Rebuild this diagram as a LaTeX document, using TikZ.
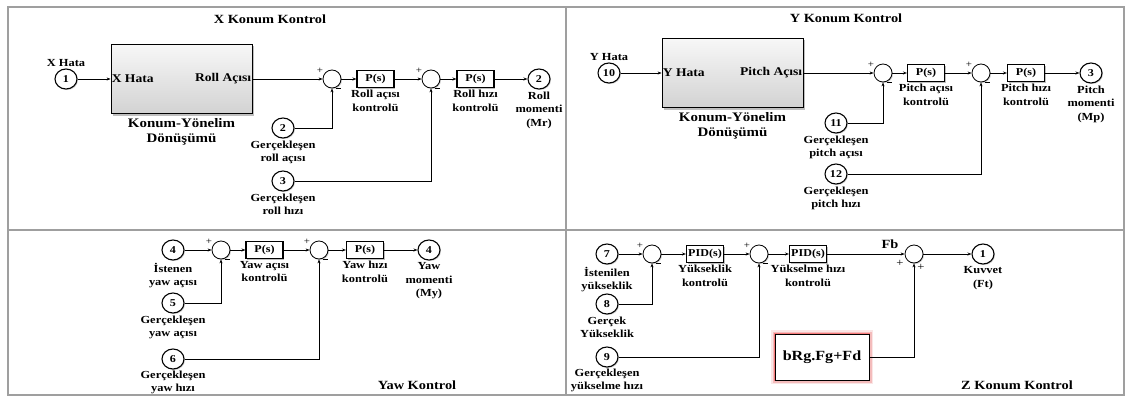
\documentclass[tikz,border=0pt]{standalone}
\usepackage{fontspec}
\setmainfont{Liberation Serif}[FakeStretch=1.15]
\usetikzlibrary{positioning,shapes.geometric,shadows,arrows.meta}

\begin{document}
\begin{tikzpicture}[
    x=1pt, y=-1pt,
    every node/.style={font=\bfseries},
    lbl/.style={align=center, inner sep=1pt, font=\fontsize{10.8}{13.5}\selectfont\bfseries},
    port/.style={draw, ellipse, line width=1.1pt, fill=white, minimum width=22pt, minimum height=20pt, inner sep=0pt,
      drop shadow={shadow xshift=1pt, shadow yshift=-1pt, opacity=0.4}, font=\fontsize{10.5}{11}\selectfont\bfseries},
    sum/.style={draw, circle, line width=0.8pt, fill=white, minimum size=18pt, inner sep=0pt,
      drop shadow={shadow xshift=1pt, shadow yshift=-1pt, opacity=0.4}},
    gain/.style={draw, line width=1.1pt, fill=white, minimum width=37pt, minimum height=17pt, inner sep=1pt,
      drop shadow={shadow xshift=1.2pt, shadow yshift=-1.2pt, opacity=0.5}, font=\fontsize{10.5}{11}\selectfont\bfseries},
    subsys/.style={draw, line width=0.8pt, top color=gray!6, bottom color=gray!35, minimum width=141pt, minimum height=69pt,
      drop shadow={shadow xshift=2pt, shadow yshift=-2pt, opacity=0.5}},
    port name/.style={inner sep=1pt, font=\fontsize{11.8}{13}\selectfont\bfseries},
    caption/.style={align=center, inner sep=1pt, font=\fontsize{13}{15}\selectfont\bfseries},
    glowbox/.style={draw, line width=0.8pt, fill=white, minimum width=94pt, minimum height=46pt,
      preaction={draw=red!80!black, line width=8pt, opacity=0.1},
      preaction={draw=red!85!black, line width=5pt, opacity=0.18},
      preaction={draw=red, line width=2.5pt, opacity=0.35},
      font=\fontsize{14}{15}\selectfont\bfseries},
    plus/.style={inner sep=0pt, font=\fontsize{9.5}{10}\selectfont},
    minus/.style={inner sep=0pt},
    arrow/.style={-{Stealth[length=4pt,width=3pt]}, line width=0.7pt},
    frame/.style={draw=gray!75, line width=1.3pt},
    title/.style={inner sep=1pt, font=\fontsize{12.5}{14}\selectfont\bfseries}
  ]
  \useasboundingbox (0,0) rectangle (1126,396);
  \draw[frame] (8,7) rectangle (1124,395);
  \draw[frame] (8,230) -- (1124,230);
  \draw[frame] (566,7) -- (566,395);

  % X Konum Kontrol
  \node[title] (tx) at (270,19) {X Konum Kontrol};
  \node[port] (xin) at (66,79) {1};
  \node[lbl, above=1pt of xin] (xinl) {X Hata};
  \node[subsys] (kx) at (181.5,79) {};
  \node[port name, anchor=west] (kxa) at (kx.west) {X Hata};
  \node[port name, anchor=east] (kxb) at (kx.east) {Roll Açısı};
  \node[caption, below=3pt of kx] (kxl) {Konum-Yönelim\\Dönüşümü};
  \node[sum] (sx1) at (332,79) {};
  \node[gain] (px1) at (375.5,79) {P(s)};
  \node[lbl, below=1pt of px1] (px1l) {Roll açısı\\kontrolü};
  \node[sum] (sx2) at (431,79) {};
  \node[gain] (px2) at (475.5,79) {P(s)};
  \node[lbl, below=1pt of px2] (px2l) {Roll hızı\\kontrolü};
  \node[port] (xout) at (539,79) {2};
  \node[lbl, below=1pt of xout] (xoutl) {Roll\\momenti\\(Mr)};
  \node[port] (xr2) at (283,128) {2};
  \node[lbl, below=1pt of xr2] (xr2l) {Gerçekleşen\\roll açısı};
  \node[port] (xr3) at (283,181) {3};
  \node[lbl, below=1pt of xr3] (xr3l) {Gerçekleşen\\roll hızı};
  \node[plus] (sx1p) at ([shift={(-12,-8)}]sx1) {+};
  \node[minus] (sx1m) at ([shift={(6,9.5)}]sx1) {\rule{5pt}{1.8pt}};
  \node[plus] (sx2p) at ([shift={(-12,-8)}]sx2) {+};
  \node[minus] (sx2m) at ([shift={(6,9.5)}]sx2) {\rule{5pt}{1.8pt}};

  \draw[arrow] (xin) -- (kx);
  \draw[arrow] (kx) -- (sx1);
  \draw[arrow] (sx1) -- (px1);
  \draw[arrow] (px1) -- (sx2);
  \draw[arrow] (sx2) -- (px2);
  \draw[arrow] (px2) -- (xout);
  \draw[arrow] (xr2) -| (sx1);
  \draw[arrow] (xr3) -| (sx2);

  % Y Konum Kontrol
  \node[title] (ty) at (846,18) {Y Konum Kontrol};
  \node[port] (yin) at (609,73) {10};
  \node[lbl, above=1pt of yin] (yinl) {Y Hata};
  \node[subsys] (ky) at (732.5,73) {};
  \node[port name, anchor=west] (kya) at (ky.west) {Y Hata};
  \node[port name, anchor=east] (kyb) at (ky.east) {Pitch Açısı};
  \node[caption, below=3pt of ky] (kyl) {Konum-Yönelim\\Dönüşümü};
  \node[sum] (sy1) at (883,73) {};
  \node[gain] (py1) at (926,73) {P(s)};
  \node[lbl, below=1pt of py1] (py1l) {Pitch açısı\\kontrolü};
  \node[sum] (sy2) at (981,73) {};
  \node[gain] (py2) at (1026,73) {P(s)};
  \node[lbl, below=1pt of py2] (py2l) {Pitch hızı\\kontrolü};
  \node[port] (yout) at (1091,73) {3};
  \node[lbl, below=1pt of yout] (youtl) {Pitch\\momenti\\(Mp)};
  \node[port] (yr11) at (836,123) {11};
  \node[lbl, below=1pt of yr11] (yr11l) {Gerçekleşen\\pitch açısı};
  \node[port] (yr12) at (836,174) {12};
  \node[lbl, below=1pt of yr12] (yr12l) {Gerçekleşen\\pitch hızı};
  \node[plus] (sy1p) at ([shift={(-12,-8)}]sy1) {+};
  \node[minus] (sy1m) at ([shift={(6,9.5)}]sy1) {\rule{5pt}{1.8pt}};
  \node[plus] (sy2p) at ([shift={(-12,-8)}]sy2) {+};
  \node[minus] (sy2m) at ([shift={(6,9.5)}]sy2) {\rule{5pt}{1.8pt}};

  \draw[arrow] (yin) -- (ky);
  \draw[arrow] (ky) -- (sy1);
  \draw[arrow] (sy1) -- (py1);
  \draw[arrow] (py1) -- (sy2);
  \draw[arrow] (sy2) -- (py2);
  \draw[arrow] (py2) -- (yout);
  \draw[arrow] (yr11) -| (sy1);
  \draw[arrow] (yr12) -| (sy2);

  % Yaw Kontrol
  \node[title] (tw) at (417,385) {Yaw Kontrol};
  \node[port] (w4) at (173,250) {4};
  \node[lbl, below=1pt of w4] (w4l) {İstenen\\yaw açısı};
  \node[sum] (sw1) at (221,250) {};
  \node[gain] (pw1) at (264.5,250) {P(s)};
  \node[lbl, below=1pt of pw1] (pw1l) {Yaw açısı\\kontrolü};
  \node[sum] (sw2) at (319,250) {};
  \node[gain] (pw2) at (365,250) {P(s)};
  \node[lbl, below=1pt of pw2] (pw2l) {Yaw hızı\\kontrolü};
  \node[port] (wout) at (429,250) {4};
  \node[lbl, below=1pt of wout] (woutl) {Yaw\\momenti\\(My)};
  \node[port] (w5) at (173,303) {5};
  \node[lbl, below=1pt of w5] (w5l) {Gerçekleşen\\yaw açısı};
  \node[port] (w6) at (173,359) {6};
  \node[lbl, below=0pt of w6] (w6l) {Gerçekleşen\\yaw hızı};
  \node[plus] (sw1p) at ([shift={(-12,-8)}]sw1) {+};
  \node[minus] (sw1m) at ([shift={(6,9.5)}]sw1) {\rule{5pt}{1.8pt}};
  \node[plus] (sw2p) at ([shift={(-12,-8)}]sw2) {+};
  \node[minus] (sw2m) at ([shift={(6,9.5)}]sw2) {\rule{5pt}{1.8pt}};

  \draw[arrow] (w4) -- (sw1);
  \draw[arrow] (sw1) -- (pw1);
  \draw[arrow] (pw1) -- (sw2);
  \draw[arrow] (sw2) -- (pw2);
  \draw[arrow] (pw2) -- (wout);
  \draw[arrow] (w5) -| (sw1);
  \draw[arrow] (w6) -| (sw2);

  % Z Konum Kontrol
  \node[title] (tz) at (1017,385) {Z Konum Kontrol};
  \node[port] (z7) at (607,254) {7};
  \node[lbl, below=1pt of z7] (z7l) {İstenilen\\yükseklik};
  \node[sum] (sz1) at (652,254) {};
  \node[gain] (pz1) at (705,254) {PID(s)};
  \node[lbl, below=1pt of pz1] (pz1l) {Yükseklik\\kontrolü};
  \node[sum] (sz2) at (759,254) {};
  \node[gain] (pz2) at (808,254) {PID(s)};
  \node[lbl, below=1pt of pz2] (pz2l) {Yükselme hızı\\kontrolü};
  \node[sum] (sz3) at (914,254) {};
  \node[lbl] (fb) at (890,244) {\fontsize{12.5}{13}\selectfont Fb};
  \node[port] (zout) at (983,254) {1};
  \node[lbl, below=1pt of zout] (zoutl) {Kuvvet\\(Ft)};
  \node[port] (z8) at (607,304) {8};
  \node[lbl, below=1pt of z8] (z8l) {Gerçek\\Yükseklik};
  \node[port] (z9) at (607,357) {9};
  \node[lbl, below=0pt of z9] (z9l) {Gerçekleşen\\yükselme hızı};
  \node[glowbox] (ff) at (822,357) {bRg.Fg+Fd};
  \node[plus] (sz1p) at ([shift={(-12,-8)}]sz1) {+};
  \node[minus] (sz1m) at ([shift={(6,9.5)}]sz1) {\rule{5pt}{1.8pt}};
  \node[plus] (sz2p) at ([shift={(-12,-8)}]sz2) {+};
  \node[minus] (sz2m) at ([shift={(6,9.5)}]sz2) {\rule{5pt}{1.8pt}};
  \node[plus, font=\fontsize{11}{11}\selectfont] (sz3p) at ([shift={(-14,9)}]sz3) {+};
  \node[plus, font=\fontsize{11}{11}\selectfont] (sz3q) at ([shift={(7,13)}]sz3) {+};

  \draw[arrow] (z7) -- (sz1);
  \draw[arrow] (sz1) -- (pz1);
  \draw[arrow] (pz1) -- (sz2);
  \draw[arrow] (sz2) -- (pz2);
  \draw[arrow] (pz2) -- (sz3);
  \draw[arrow] (sz3) -- (zout);
  \draw[arrow] (z8) -| (sz1);
  \draw[arrow] (z9) -| (sz2);
  \draw[arrow] (ff) -| (sz3);
\end{tikzpicture}
\end{document}
